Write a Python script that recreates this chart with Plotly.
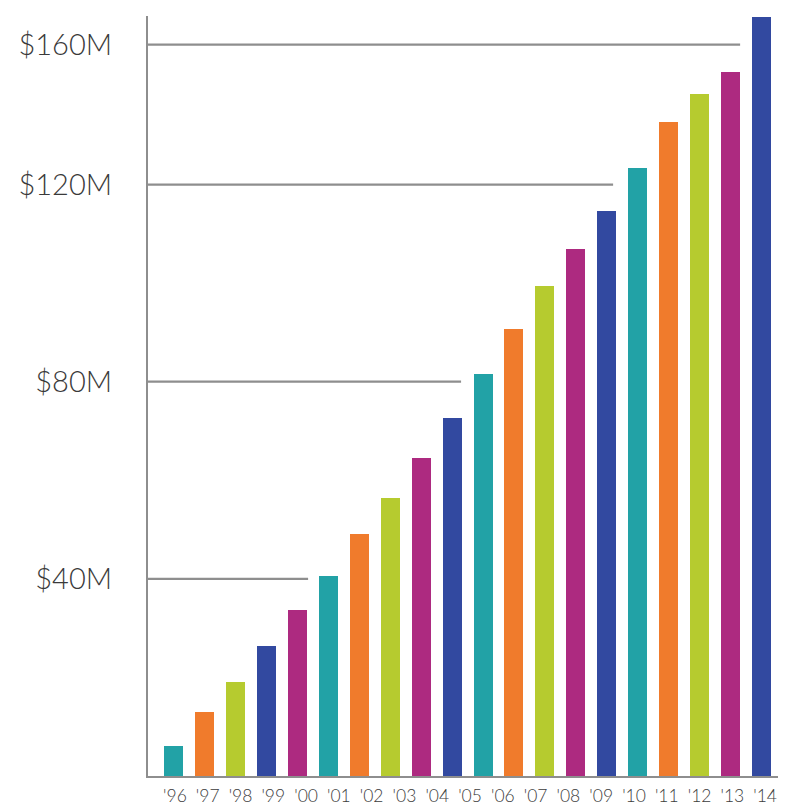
import plotly.graph_objects as go

# ---- data ----
year_labels = ["'96", "'97", "'98", "'99", "'00", "'01", "'02", "'03", "'04", "'05",
               "'06", "'07", "'08", "'09", "'10", "'11", "'12", "'13", "'14"]
bar_values = [6.0, 13.0, 19.1, 26.3, 33.7, 40.5, 49.1, 56.4, 64.6, 72.6,
              81.6, 90.6, 99.4, 106.9, 114.7, 123.3, 132.7, 138.3, 142.8, 154.0]  # $M
y_tick_labels = ["$40M", "$80M", "$120M", "$160M"]
y_tick_values = [40, 80, 120, 148.4]   # where each labelled rule sits in the picture
rule_end_bar = [4.34, 9.29, 14.21, 18.32]  # horizontal rules stop after these bars

# ---- styling ----
TEAL, ORANGE, LIME, NAVY, MAGENTA = "#22a2a6", "#f07b2c", "#b6cb2f", "#3249a0", "#ad2a80"
bar_colors = [TEAL, ORANGE, LIME, NAVY, MAGENTA,
              TEAL, ORANGE, LIME, MAGENTA, NAVY,
              TEAL, ORANGE, LIME, MAGENTA, NAVY,
              TEAL, ORANGE, LIME, MAGENTA, NAVY]
GRAY = "#8e8e8e"
FONT = "Lato"

x_idx = list(range(len(bar_values)))
x_min, x_max = -0.841, 19.74
label_pos = [i * 19.1 / (len(year_labels) - 1) + 0.03 for i in range(len(year_labels))]

fig = go.Figure()
fig.add_trace(go.Bar(
    x=x_idx, y=bar_values, width=0.615,
    marker=dict(color=bar_colors, line=dict(width=0)),
    cliponaxis=False, hoverinfo="y",
))

for v, xe in zip(y_tick_values, rule_end_bar):
    fig.add_shape(type="line", xref="x", yref="y", x0=x_min, x1=xe, y0=v, y1=v,
                  line=dict(color=GRAY, width=2.2), layer="below")

fig.update_layout(
    width=786, height=806,
    margin=dict(l=140, r=10, t=8, b=30),
    paper_bgcolor="white", plot_bgcolor="white",
    showlegend=False, bargap=0,
    xaxis=dict(range=[x_min, x_max], showgrid=False, zeroline=False,
               showline=True, linecolor=GRAY, linewidth=2.2,
               tickmode="array", tickvals=label_pos, ticktext=year_labels,
               ticks="", tickfont=dict(family=FONT, size=17.5, color="#3c3c3c", weight=300),
               ticklabelstandoff=3),
    yaxis=dict(range=[0, 154.2], showgrid=False, zeroline=False,
               showline=True, linecolor=GRAY, linewidth=2.2,
               tickmode="array", tickvals=y_tick_values, ticktext=y_tick_labels,
               ticks="", tickfont=dict(family=FONT, size=29, color="#3a3a3a", weight=300),
               ticklabelstandoff=28),
)

fig.write_html("out.html")
